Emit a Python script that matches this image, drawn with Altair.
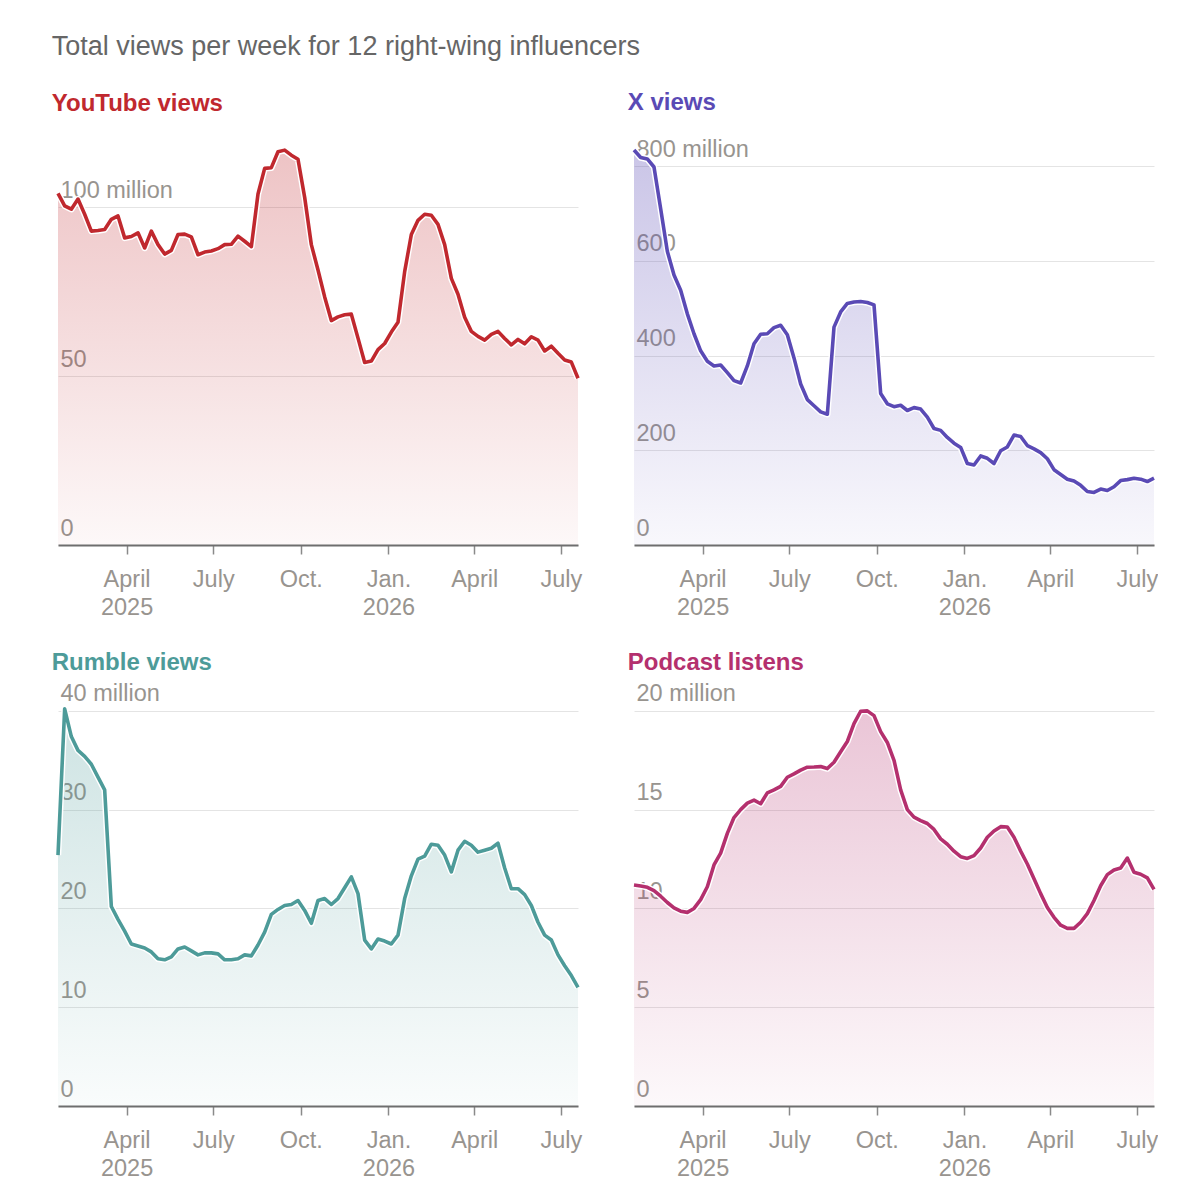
import altair as alt
import pandas as pd

# ---- data (weekly) ----
start_date = "2025-01-19"
n_weeks = 79
dates = pd.date_range(start_date, periods=n_weeks, freq="7D")

youtube = [104.2, 100.5, 99.5, 102.5, 98, 93, 93.2, 93.5, 96.5, 97.5,
           91, 91.4, 92.5, 88, 93, 89, 86.2, 87.3, 92, 92.1,
           91.3, 86, 86.8, 87.1, 87.8, 89, 89.1, 91.5, 90, 88.4,
           104, 111.6, 111.8, 116.5, 117, 115.5, 114.3, 103, 89, 81.5,
           73.5, 66.5, 67.6, 68.2, 68.4, 61.3, 54.1, 54.5, 57.9, 59.7,
           63.1, 66, 81, 92, 96.2, 98, 97.7, 95, 89, 79,
           74.3, 67.5, 63.3, 61.8, 60.7, 62.4, 63.3, 61.2, 59.3, 60.9,
           59.6, 61.7, 60.7, 57.5, 58.9, 56.8, 54.8, 54.2, 49.4]

x_views = [834, 818, 815, 798, 710, 620, 570, 538, 488, 446,
           410, 388, 378, 380, 364, 347, 342, 378, 425, 445,
           446, 459, 464, 444, 395, 340, 307, 294, 281, 276,
           460, 492, 510, 513, 514, 512, 507, 320, 298, 292,
           295, 284, 290, 287, 270, 246, 242, 227, 215, 206,
           172, 169, 188, 183, 172, 199, 207, 232, 229, 210,
           203, 195, 182, 159, 149, 139, 135, 126, 113, 111,
           118, 115, 123, 136, 138, 141, 139, 134, 141]

rumble = [25.4, 40.2, 37.4, 36, 35.4, 34.6, 33.3, 32, 20.2, 18.9,
          17.7, 16.4, 16.2, 16, 15.6, 14.9, 14.8, 15.1, 15.9, 16.1,
          15.7, 15.3, 15.5, 15.5, 15.4, 14.8, 14.8, 14.9, 15.3, 15.2,
          16.3, 17.6, 19.4, 19.9, 20.3, 20.4, 20.8, 19.8, 18.5, 20.8,
          21, 20.4, 21, 22.1, 23.2, 21.5, 16.8, 15.9, 16.9, 16.7,
          16.4, 17.3, 21, 23.3, 25, 25.3, 26.5, 26.4, 25.4, 23.7,
          25.9, 26.8, 26.4, 25.7, 25.9, 26.1, 26.6, 24.1, 22, 22,
          21.4, 20.3, 18.6, 17.3, 16.8, 15.3, 14.2, 13.2, 12]

podcast = [11.19, 11.14, 11.07, 10.9, 10.62, 10.3, 10.03, 9.86, 9.8, 10.0,
           10.45, 11.1, 12.2, 12.8, 13.8, 14.6, 15.0, 15.33, 15.48, 15.3,
           15.85, 16.0, 16.18, 16.64, 16.81, 17.0, 17.15, 17.16, 17.18, 17.08,
           17.4, 17.93, 18.45, 19.35, 19.98, 20.0, 19.76, 18.95, 18.4, 17.5,
           16.0, 15.0, 14.62, 14.45, 14.3, 14.0, 13.52, 13.25, 12.9, 12.62,
           12.53, 12.67, 13.06, 13.6, 13.92, 14.14, 14.12, 13.6, 12.9, 12.25,
           11.5, 10.75, 10.05, 9.55, 9.15, 8.99, 8.99, 9.3, 9.74, 10.4,
           11.15, 11.71, 11.95, 12.05, 12.55, 11.83, 11.73, 11.55, 10.96]

titles = ["YouTube views", "X views", "Rumble views", "Podcast listens"]
colors = ["#c0282e", "#5a4ab5", "#4d9b99", "#b4306e"]
fill_top = ["rgba(192,40,46,0.28)", "rgba(90,74,181,0.32)",
            "rgba(77,155,153,0.28)", "rgba(180,48,110,0.28)"]
fill_bottom = ["rgba(192,40,46,0.03)", "rgba(90,74,181,0.04)",
               "rgba(77,155,153,0.03)", "rgba(180,48,110,0.03)"]
y_max = [120, 855, 41, 20.5]
y_ticks = [[0, 50, 100], [0, 200, 400, 600, 800], [0, 10, 20, 30, 40], [0, 5, 10, 15, 20]]
title_offsets = [24, 22, 7, 7]
x_tick_dates = [(2025, 4), (2025, 7), (2025, 10), (2026, 1), (2026, 4), (2026, 7)]
main_title = "Total views per week for 12 right-wing influencers"

FONT = "Liberation Sans"
LABEL_COLOR = "#98948f"

x_label_expr = (
    "month(datum.value) == 3 ? (year(datum.value) == 2025 ? ['April', '2025'] : 'April') : "
    "month(datum.value) == 6 ? 'July' : month(datum.value) == 9 ? 'Oct.' : ['Jan.', '2026']"
)


def panel(vals, color, ftop, fbot, title, ymax, yticks, toff):
    df = pd.DataFrame({"date": dates, "v": vals})
    top = yticks[-1]
    xenc = alt.X(
        "date:T",
        title=None,
        scale=alt.Scale(domain=[alt.DateTime(year=2025, month=1, date=19),
                                alt.DateTime(year=2026, month=7, date=19)]),
        axis=alt.Axis(
            values=[alt.DateTime(year=y, month=m, date=1) for (y, m) in x_tick_dates],
            labelExpr=x_label_expr,
            grid=False,
            tickSize=9, tickColor="#8a8a8a", tickWidth=1.5,
            domainColor="#6e6e6e", domainWidth=2,
            labelFont=FONT, labelFontSize=23.5, labelColor=LABEL_COLOR,
            labelPadding=13, labelLineHeight=28,
            labelFlush=False, labelOverlap=False,
            zindex=1,
        ),
    )
    yenc = alt.Y(
        "v:Q",
        title=None,
        scale=alt.Scale(domain=[0, ymax], nice=False, zero=True),
        axis=alt.Axis(
            values=yticks,
            labelExpr=f"datum.value == {top} ? '{top} million' : datum.label",
            ticks=False, domain=False,
            grid=True, gridColor="#e4e4e4", gridWidth=1,
            labelAlign="left", labelBaseline="alphabetic",
            labelOffset=-10, labelPadding=-2,
            labelFont=FONT, labelFontSize=23.5, labelColor=LABEL_COLOR,
            labelOverlap=False, labelFlush=False,
        ),
    )
    base = alt.Chart(df).encode(x=xenc, y=yenc)
    area = base.mark_area(
        color=alt.Gradient(
            gradient="linear",
            stops=[alt.GradientStop(color=fbot, offset=0),
                   alt.GradientStop(color=ftop, offset=1)],
            x1=1, x2=1, y1=1, y2=0,
        )
    )
    halo = base.mark_line(color="white", strokeWidth=6.5, strokeJoin="round")
    line = base.mark_line(color=color, strokeWidth=3.6, strokeJoin="round")
    return alt.layer(area, halo, line).properties(
        width=520,
        height=405,
        title=alt.TitleParams(
            text=title, anchor="start", font=FONT, fontSize=24,
            fontWeight="bold", color=color, offset=toff, dx=-3,
        ),
    )


series = [youtube, x_views, rumble, podcast]
panels = [panel(series[k], colors[k], fill_top[k], fill_bottom[k], titles[k],
                y_max[k], y_ticks[k], title_offsets[k]) for k in range(4)]

chart = alt.concat(
    *panels, columns=2, spacing={"row": 156, "column": 56}, bounds="flush"
).properties(
    title=alt.TitleParams(
        text=main_title, anchor="start", font=FONT, fontSize=27,
        fontWeight="normal", color="#666666", offset=30, dx=0,
    ),
    padding={"left": 43, "top": 25, "right": 0, "bottom": 0},
    background="white",
).configure_view(strokeWidth=0)

chart.save("out.html", embed_options={"renderer": "svg", "actions": False})
